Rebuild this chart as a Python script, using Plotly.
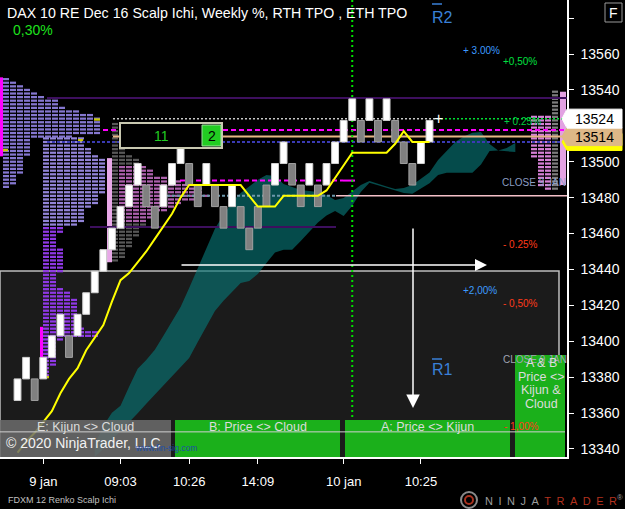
import plotly.graph_objects as go

# ------------------------------------------------------------------ data
bar_index = list(range(49))
brick_open = [13367, 13379, 13379, 13379, 13391, 13403, 13403, 13403, 13415, 13427,
              13439, 13451, 13463, 13475, 13487, 13487, 13475, 13475, 13487, 13499,
              13499, 13487, 13487, 13487, 13475, 13475, 13475, 13463, 13475, 13487,
              13487, 13499, 13499, 13487, 13487, 13487, 13487, 13499, 13511, 13523,
              13523, 13523, 13523, 13523, 13523, 13511, 13499, 13499, 13511]
brick_close = [13379, 13391, 13367, 13391, 13403, 13415, 13391, 13415, 13427, 13439,
               13451, 13463, 13475, 13487, 13499, 13475, 13463, 13487, 13499, 13511,
               13487, 13475, 13499, 13475, 13463, 13487, 13463, 13451, 13463, 13475,
               13499, 13511, 13487, 13475, 13499, 13475, 13499, 13511, 13523, 13535,
               13511, 13535, 13511, 13535, 13511, 13499, 13487, 13511, 13523]
kijun = [13338, 13344, 13349, 13355, 13361, 13371, 13379, 13385, 13395, 13402,
         13409, 13422, 13434, 13438, 13444, 13450, 13457, 13464, 13471, 13480,
         13487, 13487, 13487, 13487, 13487, 13487, 13487, 13481, 13475, 13475,
         13475, 13481, 13481, 13481, 13481, 13481, 13484, 13491, 13498, 13505,
         13505, 13505, 13505, 13505, 13510, 13517, 13511, 13511, 13511]

cloud_index = list(range(9, 59))
cloud_upper = [13342.3, 13352.8, 13360.1, 13364.0, 13374.6, 13384.6, 13389.6, 13395.2, 13403.0, 13411.3,
               13419.1, 13429.7, 13440.8, 13452.5, 13462.6, 13470.4, 13477.6, 13482.6, 13486.5, 13489.9,
               13492.6, 13492.1, 13487.6, 13486.0, 13484.3, 13483.7, 13483.2, 13481.5, 13478.7, 13479.8,
               13483.2, 13487.1, 13489.3, 13487.6, 13486.2, 13484.8, 13485.4, 13487.1, 13490.4, 13494.0,
               13501.0, 13506.3, 13511.0, 13514.1, 13516.1, 13516.6, 13509.9, 13506.2, 13507.7, 13510.5]
cloud_lower = [13335.6, 13340.0, 13345.0, 13349.8, 13354.8, 13359.9, 13365.1, 13370.1, 13375.1, 13380.4,
               13385.7, 13390.7, 13399.6, 13408.5, 13416.9, 13422.5, 13427.5, 13432.5, 13433.6, 13437.5,
               13443.6, 13449.4, 13450.9, 13450.9, 13455.9, 13460.9, 13466.2, 13470.1, 13472.6, 13469.8,
               13475.5, 13483.2, 13488.3, 13486.9, 13485.4, 13484.0, 13482.6, 13482.2, 13485.1, 13488.0,
               13492.6, 13493.8, 13493.8, 13493.8, 13493.8, 13498.5, 13506.0, 13506.2, 13505.8, 13505.4]

x_tick_index = [3, 12, 20, 28, 38, 47]
x_tick_labels = ["9 jan", "09:03", "10:26", "14:09", "10 jan", "10:25"]
y_tick_values = [13340, 13360, 13380, 13400, 13420, 13440, 13460, 13480, 13500, 13520, 13540, 13560, 13580]
# 13520 sits under the last-price marker and 13580 under the top edge: no label shown
y_tick_labels = ["13340", "13360", "13380", "13400", "13420", "13440", "13460", "13480", "13500",
                 "", "13540", "13560", ""]
session_break_index = 39

# TPO profiles (price level, number of TPO blocks)
eth_levels = [13546, 13544, 13542, 13540, 13538, 13536, 13534, 13532, 13530, 13528, 13526, 13524,
              13522, 13520, 13518, 13516, 13514, 13512, 13510, 13508, 13506, 13504, 13502, 13500,
              13498, 13496, 13494, 13492, 13490, 13488, 13486]
eth_blocks = [1, 2, 3, 4, 5, 6, 8, 8, 9, 11, 13, 14, 14, 14, 14, 14, 10, 4, 4, 4, 4, 4, 3, 3,
              3, 3, 3, 2, 2, 2, 1]
eth2_levels = [13513, 13511, 13509, 13507, 13505, 13503, 13501, 13499, 13497, 13495, 13493, 13491,
               13489, 13487, 13485, 13483, 13481, 13479, 13477, 13475, 13473, 13471, 13469, 13467,
               13465, 13463, 13461, 13459, 13457, 13455, 13453, 13451, 13449, 13447, 13445, 13443,
               13441, 13439, 13437, 13435, 13433, 13431, 13429, 13427, 13425, 13423, 13421, 13419,
               13417, 13415, 13413, 13411, 13409, 13407, 13405, 13403, 13401, 13399, 13397, 13395,
               13393, 13391, 13389, 13387, 13385, 13383, 13381]
eth2_blocks = [6, 6, 6, 7, 7, 8, 9, 9, 9, 9, 9, 9, 9, 9, 9, 9, 8, 8, 8, 7, 6, 6, 6, 6, 5, 3, 3,
               2, 2, 2, 2, 3, 3, 3, 3, 3, 3, 3, 2, 2, 2, 2, 3, 4, 4, 5, 5, 5, 5, 5, 5, 5, 5, 6,
               8, 8, 3, 2, 2, 2, 2, 2, 2, 2, 1, 1, 1]
rth_levels = [13521, 13519, 13517, 13515, 13513, 13511, 13509, 13507, 13505, 13503, 13501, 13499,
              13497, 13495, 13493, 13491, 13489, 13487, 13485, 13483, 13481, 13479, 13477, 13475,
              13473, 13471, 13469, 13467, 13465, 13463, 13461, 13459, 13457, 13455, 13453, 13451,
              13449, 13447, 13445]
rth_blocks = [1, 1, 2, 2, 2, 2, 2, 2, 2, 3, 4, 4, 5, 6, 6, 8, 10, 12, 13, 13, 14, 12, 10, 9, 8,
              6, 6, 5, 5, 4, 4, 4, 3, 3, 3, 2, 2, 2, 1]
rth_now_levels = [13539, 13537, 13535, 13533, 13531, 13529, 13527, 13525, 13523, 13521, 13519,
                  13517, 13515, 13513, 13511, 13509, 13507, 13505, 13503, 13501, 13499, 13497,
                  13495, 13493, 13491, 13489, 13487, 13485]
rth_now_blocks = [1, 1, 1, 1, 1, 1, 1, 4, 4, 4, 4, 4, 4, 4, 4, 4, 4, 4, 4, 3, 3, 3, 3, 3, 3, 3, 3, 2]
va_low = [13503, 13391, 13444, 13487]
va_high = [13547, 13408, 13502, 13539]
poc_prices = [13523.5, 13512, 13506.5, 13380]

line_prices = [13535.5, 13524, 13524, 13517.7, 13514, 13511, 13489.5, 13489.5, 13481, 13481, 13463.7]
minus_one_pct = 13349.5
last_price = 13524
marker_price = 13514
kijun_last = 13511

# ------------------------------------------------------------------ geometry helpers
W, H = 625, 509
M_R, M_B = 58, 52
PW, PH = W - M_R, H - M_B
X_RANGE = [-2.04, 64.02]
Y_RANGE = [13335.5, 13590.1]


def px_x(px):
    return X_RANGE[0] + px / PW * (X_RANGE[1] - X_RANGE[0])


def px_y(py):
    return Y_RANGE[1] - py / PH * (Y_RANGE[1] - Y_RANGE[0])


def pap_x(px):
    return px / PW


def pap_y(py):
    return 1 - py / PH


def price_pap(p):
    return (p - Y_RANGE[0]) / (Y_RANGE[1] - Y_RANGE[0])


BW = 7 / PW * (X_RANGE[1] - X_RANGE[0])   # one TPO block
FONT = "Liberation Sans, Arial, sans-serif"

fig = go.Figure()

# ------------------------------------------------------------------ cloud (base subplot)
fig.add_trace(go.Scatter(x=cloud_index, y=cloud_lower, mode="lines",
                         line=dict(width=0, color="rgba(0,0,0,0)"), hoverinfo="skip"))
fig.add_trace(go.Scatter(x=cloud_index, y=cloud_upper, mode="lines",
                         line=dict(width=0, color="rgba(0,0,0,0)"), fill="tonexty",
                         fillcolor="rgba(8,118,118,0.64)", hoverinfo="skip"))


# ------------------------------------------------------------------ profiles (overlay x2)
def profile_bar(levels, counts, start, direction, color_fn, opacity=1.0):
    ys, xs, bases, cols = [], [], [], []
    for lv, n in zip(levels, counts):
        for k in range(n):
            b = start + k * BW if direction > 0 else start - (k + 1) * BW
            ys.append(lv)
            xs.append(BW * 0.86)
            bases.append(b)
            cols.append(color_fn(lv, k))
    return go.Bar(y=ys, x=xs, base=bases, orientation="h", width=1.25,
                  marker=dict(color=cols, line=dict(width=0)), opacity=opacity,
                  xaxis="x2", yaxis="y", hoverinfo="skip")


fig.add_trace(profile_bar(eth_levels, eth_blocks, px_x(3), 1, lambda lv, k: "#8577d0"))
fig.add_trace(profile_bar(eth2_levels, eth2_blocks, px_x(43), 1,
                          lambda lv, k: "#9284d8" if lv >= 13465 else "#8f38e6"))
fig.add_trace(profile_bar(rth_levels, rth_blocks, px_x(112), 1,
                          lambda lv, k: "#d878d8" if 13467 <= lv <= 13497 and k > 0 else "#6e6e6e",
                          opacity=0.8))
fig.add_trace(profile_bar(rth_now_levels, rth_now_blocks, px_x(559), -1,
                          lambda lv, k: "#7c7c7c" if k == 0 else "#d680d6"))

va_px = [(0, 3), (40, 43), (107, 112), (560, 566)]
va_colors = ["#ff00ff", "#ff00ff", "#e8a8e8", "#e2a2e2"]
fig.add_trace(go.Bar(x=[(px_x(a) + px_x(b)) / 2 for a, b in va_px],
                     y=[h - l for l, h in zip(va_low, va_high)], base=va_low,
                     width=[px_x(b) - px_x(a) for a, b in va_px],
                     marker=dict(color=va_colors, line=dict(width=0)),
                     xaxis="x2", yaxis="y", hoverinfo="skip"))
poc_px = [(94, 100), (78, 83), (3, 8), (46, 49)]
fig.add_trace(go.Bar(y=poc_prices, x=[px_x(b) - px_x(a) for a, b in poc_px],
                     base=[px_x(a) for a, b in poc_px], orientation="h", width=1.3,
                     marker=dict(color="#c8c800", line=dict(width=0)),
                     xaxis="x2", yaxis="y", hoverinfo="skip"))

# ------------------------------------------------------------------ horizontal levels (overlay x2)
line_styles = [  # x0 px, x1 px, colour, width, dash
    (47, 567, "#3d0f5e", 2, "solid"),
    (113, 437, "#c8c8c8", 1.5, "2px,2px"),
    (437, 567, "#00dd33", 1.5, "2px,2px"),
    (103, 567, "#ff00ff", 2, "5px,3px"),
    (113, 567, "#e6b686", 2, "solid"),
    (47, 567, "#3a3ab4", 2, "3px,2px"),
    (180, 343, "#ff00ff", 2, "5px,3px"),
    (343, 355, "#ff00ff", 2, "solid"),
    (167, 336, "#6d98ac", 2, "3px,2px"),
    (336, 567, "#f4c0c8", 1.5, "solid"),
    (90, 336, "#3d0f5e", 2, "solid"),
]
for p, (a, b, c, w, d) in zip(line_prices, line_styles):
    fig.add_trace(go.Scatter(x=[px_x(a), px_x(b)], y=[p, p], mode="lines",
                             line=dict(color=c, width=w, dash=d), xaxis="x2", yaxis="y",
                             hoverinfo="skip"))
fig.add_trace(go.Scatter(x=[session_break_index, session_break_index], y=Y_RANGE, mode="lines",
                         line=dict(color="#00e000", width=2, dash="2px,3px"),
                         xaxis="x2", yaxis="y", hoverinfo="skip"))

# ------------------------------------------------------------------ renko bricks + kijun (overlay x3)
lows = [min(o, c) for o, c in zip(brick_open, brick_close)]
heights = [abs(c - o) for o, c in zip(brick_open, brick_close)]
fills = ["#ffffff" if c > o else "#808080" for o, c in zip(brick_open, brick_close)]
edges = ["#d0d0d0" if c > o else "#a0a0a0" for o, c in zip(brick_open, brick_close)]
fig.add_trace(go.Bar(x=bar_index, y=heights, base=lows, width=0.8,
                     marker=dict(color=fills, line=dict(color=edges, width=1)),
                     xaxis="x3", yaxis="y", hoverinfo="skip"))
fig.add_trace(go.Scatter(x=bar_index, y=kijun, mode="lines",
                         line=dict(color="#ffff00", width=2), xaxis="x3", yaxis="y",
                         hoverinfo="skip"))

# ------------------------------------------------------------------ shapes
shapes = []
shapes.append(dict(type="rect", xref="x", yref="y", x0=X_RANGE[0], x1=px_x(559),
                   y0=Y_RANGE[0] - 5, y1=px_y(271), fillcolor="#1b1b1b",
                   line=dict(color="#bebebe", width=1.5), layer="below"))
box_green = "#1bb01b"
for a, b, top, col in [(0, 171, 420, "rgba(108,108,108,0.85)"), (175, 340, 420, box_green),
                       (345, 510, 420, box_green), (515, 565, 355, box_green)]:
    shapes.append(dict(type="rect", xref="x", yref="y", x0=px_x(a), x1=px_x(b),
                       y0=Y_RANGE[0] - 5, y1=px_y(top), fillcolor=col, line=dict(width=0),
                       layer="above"))
shapes.append(dict(type="line", xref="x", yref="y", x0=px_x(0), x1=px_x(565),
                   y0=minus_one_pct, y1=minus_one_pct, line=dict(color="#d0d0d0", width=1),
                   layer="above"))
# 11 | 2 box
shapes.append(dict(type="rect", xref="x", yref="y", x0=px_x(120), x1=px_x(222),
                   y0=px_y(148), y1=px_y(123), fillcolor="black",
                   line=dict(color="#c8c8b0", width=2), layer="above"))
shapes.append(dict(type="rect", xref="x", yref="y", x0=px_x(202), x1=px_x(221),
                   y0=px_y(146), y1=px_y(125), fillcolor="#22cc22",
                   line=dict(color="#9ee09e", width=1), layer="above"))


# price markers on the axis
def marker_path(p, half_px):
    yc = price_pap(p)
    hh = half_px / PH
    return (f"M {pap_x(562)},{yc} L {pap_x(567)},{yc + hh} L {pap_x(622)},{yc + hh} "
            f"L {pap_x(622)},{yc - hh} L {pap_x(567)},{yc - hh} Z")


for p, half, col in [(kijun_last, 8.5, "#ffff00"), (marker_price, 9, "#deb887"),
                     (last_price, 9.5, "#ffffff")]:
    shapes.append(dict(type="path", xref="paper", yref="paper", path=marker_path(p, half),
                       fillcolor=col, line=dict(color=col, width=1), layer="above"))
# F button
shapes.append(dict(type="rect", xref="paper", yref="paper", x0=pap_x(605), x1=pap_x(622),
                   y0=pap_y(22), y1=pap_y(3), fillcolor="black",
                   line=dict(color="#9a9a9a", width=1)))
# logo rings
shapes.append(dict(type="circle", xref="paper", yref="paper", x0=pap_x(461), x1=pap_x(477),
                   y0=pap_y(508), y1=pap_y(492), line=dict(color="#8a8a8a", width=2)))
shapes.append(dict(type="circle", xref="paper", yref="paper", x0=pap_x(465), x1=pap_x(473),
                   y0=pap_y(504), y1=pap_y(496), line=dict(color="#a8321e", width=2)))
# overbars of R2 / R1
for yb in (4, 359):
    shapes.append(dict(type="line", xref="paper", yref="paper", x0=pap_x(432), x1=pap_x(442),
                       y0=pap_y(yb), y1=pap_y(yb), line=dict(color="#3a80d8", width=1.5)))

# ------------------------------------------------------------------ annotations
ann = []


def txt(text, xp, yp, size, color, xanchor="left", yanchor="middle"):
    ann.append(dict(text=text, x=pap_x(xp), y=pap_y(yp), xref="paper", yref="paper",
                    xanchor=xanchor, yanchor=yanchor, showarrow=False,
                    font=dict(family=FONT, size=size, color=color)))


txt("DAX 10 RE Dec 16 Scalp Ichi, Weekly %, RTH TPO , ETH TPO", 5, 13, 14.2, "#ffffff")
txt("0,30%", 11, 30, 14, "#1ee01e")
txt("F", 613.5, 12.5, 14, "#ffffff", xanchor="center")
txt("R2", 430, 18, 16, "#3a80d8")
txt("R1", 430, 369, 16, "#3a80d8")
for t, xp, yp, c in [("+ 3.00%", 461, 50, "#3d9bff"), ("+0,50%", 501, 62, "#00e040"),
                     ("+ 0.25%", 502, 122, "#00d040"), ("CLOSE 9 JAN", 500, 183, "#8c9ec4"),
                     ("- 0.25%", 501, 244, "#ff3a1a"), ("+2,00%", 461, 290, "#3d9bff"),
                     ("- 0,50%", 501, 303, "#ff3a1a"), ("CLOSE 9 JAN", 501, 359, "#a0a4b4"),
                     ("- 1,00%", 502, 426, "#ff3a1a")]:
    txt(t, xp, yp, 10, c)
txt("+", 438, 118, 16, "#ffffff", xanchor="center")
txt("11", 161, 136, 14, "#22cc22", xanchor="center")
txt("2", 211.5, 136, 14, "#000000", xanchor="center")
box_txt = "#dcdcdc"
txt("E: Kijun &lt;&gt; Cloud", 85.5, 427, 12.5, box_txt, xanchor="center")
txt("B: Price &lt;&gt; Cloud", 257.5, 427, 12.5, box_txt, xanchor="center")
txt("A: Price &lt;&gt; Kijun", 427.5, 427, 12.5, box_txt, xanchor="center")
for t, yp in [("A &amp; B", 363), ("Price &lt;&gt;", 377), ("Kijun &amp;", 390), ("Cloud", 404)]:
    txt(t, 541, yp, 12.5, box_txt, xanchor="center")
txt("© 2020 NinjaTrader, LLC", 4, 443, 14, "#f2f2f2")
txt("www.fin-sig.com", 133, 448, 8.5, "#1f4fa8")
txt("FDXM 12 Renko Scalp Ichi", 6, 500, 9, "#c0c0c0")
sp = "\u2002"
ann.append(dict(text=("<span style='color:#9c9c9c'>" + sp.join("NINJA") + sp + "</span>"
                      "<span style='color:#b3321f'>" + sp.join("TRADER") + "</span>"
                      "<span style='color:#9c9c9c'><sup>®</sup></span>"),
                x=pap_x(483), y=pap_y(500), xref="paper", yref="paper", xanchor="left",
                yanchor="middle", showarrow=False, font=dict(family=FONT, size=11)))
for p, col in [(last_price, "#000000"), (marker_price, "#000000")]:
    ann.append(dict(text=str(p), x=pap_x(594.5), y=price_pap(p), xref="paper", yref="paper",
                    xanchor="center", yanchor="middle", showarrow=False,
                    font=dict(family=FONT, size=14, color=col)))
# arrows
ann.append(dict(text="", x=px_x(487), y=px_y(265), ax=px_x(180), ay=px_y(265),
                xref="x", yref="y", axref="x", ayref="y", showarrow=True, arrowhead=2,
                arrowsize=1.6, arrowwidth=1.5, arrowcolor="#ffffff"))
ann.append(dict(text="", x=px_x(413), y=px_y(408), ax=px_x(413), ay=px_y(227),
                xref="x", yref="y", axref="x", ayref="y", showarrow=True, arrowhead=2,
                arrowsize=1.8, arrowwidth=1.5, arrowcolor="#ffffff"))

# ------------------------------------------------------------------ layout
fig.update_layout(
    width=W, height=H, margin=dict(l=0, r=M_R, t=0, b=M_B, pad=0),
    paper_bgcolor="black", plot_bgcolor="black", showlegend=False,
    barmode="overlay", hovermode=False,
    font=dict(family=FONT, color="white"),
    xaxis=dict(range=X_RANGE, tickmode="array", tickvals=x_tick_index, ticktext=x_tick_labels,
               ticks="outside", ticklen=5, tickwidth=1, tickcolor="white", showline=True,
               linecolor="white", linewidth=1.5, showgrid=False, zeroline=False,
               tickfont=dict(family=FONT, size=13, color="white"), ticklabelstandoff=7,
               automargin=False, fixedrange=True),
    xaxis2=dict(range=X_RANGE, overlaying="x", visible=False, fixedrange=True),
    xaxis3=dict(range=X_RANGE, overlaying="x", visible=False, fixedrange=True),
    yaxis=dict(range=Y_RANGE, side="right", tickmode="array", tickvals=y_tick_values,
               ticktext=y_tick_labels, ticks="outside", ticklen=5, tickwidth=1,
               tickcolor="white", showline=True, linecolor="white", linewidth=1.5,
               showgrid=False, zeroline=False, tickfont=dict(family=FONT, size=14, color="white"),
               ticklabelstandoff=4, automargin=False, fixedrange=True),
    shapes=shapes, annotations=ann,
)

fig.write_html("out.html", config={"displayModeBar": False})
